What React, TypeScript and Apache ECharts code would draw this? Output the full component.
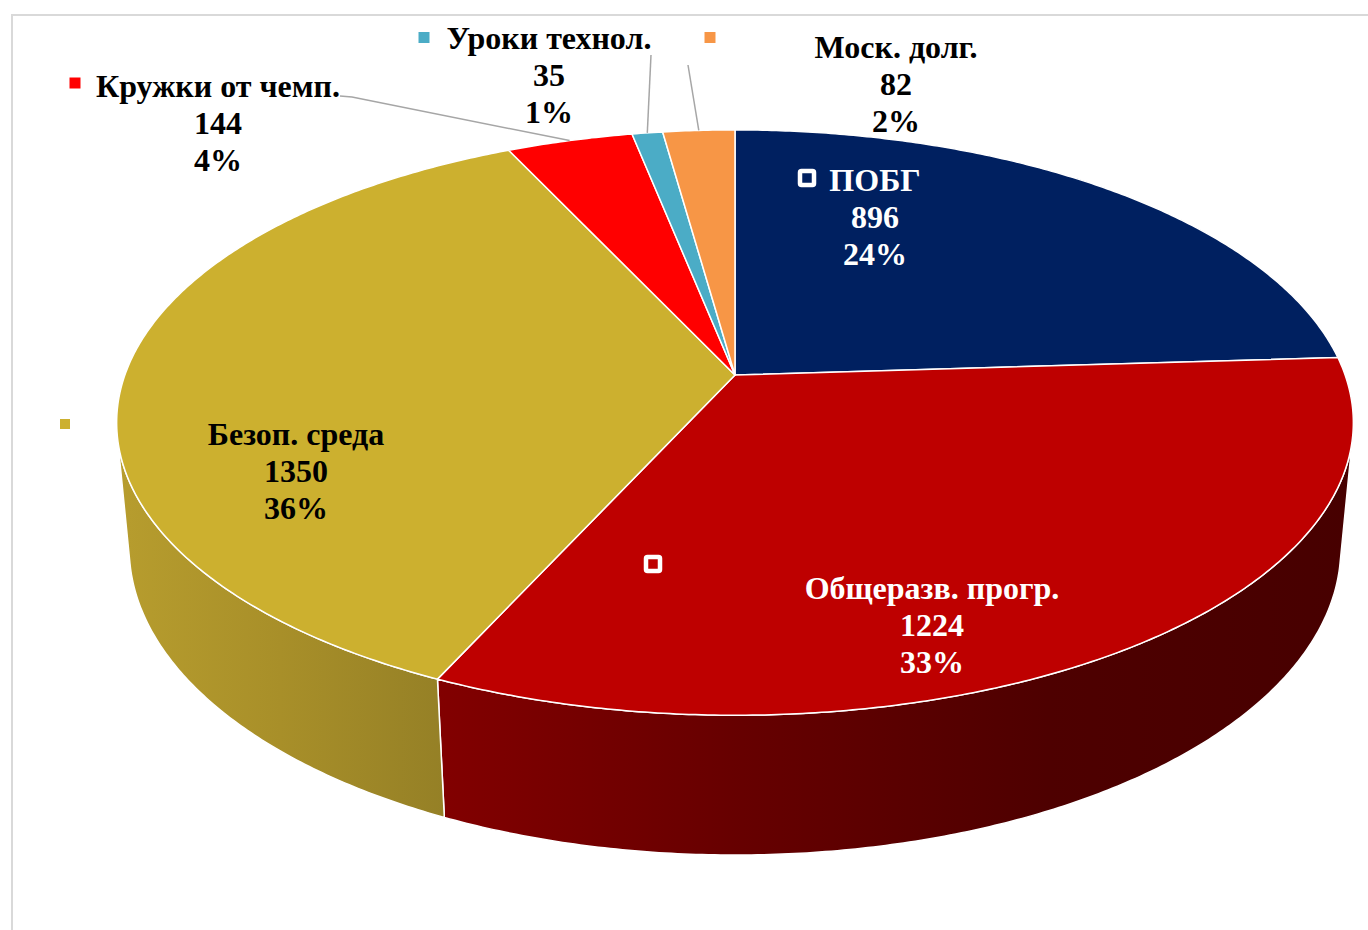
import React, { useEffect, useRef } from "react";
import * as echarts from "echarts";

// ---- data ----
const categories = ["ПОБГ", "Общеразв. прогр.", "Безоп. среда", "Кружки от чемп.", "Уроки технол.", "Моск. долг."];
const values = [896, 1224, 1350, 144, 35, 82];

// ---- styles ----
const topColors = ["#002060", "#BE0000", "#CCB02F", "#FF0000", "#4BACC6", "#F79646"];
const wallStops: string[][] = [
  ["#001A4F", "#000E2E"],
  ["#820000", "#660000", "#4E0000", "#470000"],
  ["#B79D2E", "#A88F29", "#958026"],
  ["#B00000", "#900000"],
  ["#3A8FA6", "#2F7A8E"],
  ["#D07A33", "#B8682A"],
];
const labelColors = ["#FFFFFF", "#FFFFFF", "#000000", "#000000", "#000000", "#000000"];

// label layout (screen positions): text centre x, first line centre y, legend key centre
const labelLayout = [
  { x: 875, y: 180, kx: 807, ky: 178, ks: 14, hollow: true, leader: null as null | number[][] },
  { x: 932, y: 588, kx: 653, ky: 564, ks: 14, hollow: true, leader: null },
  { x: 296, y: 434, kx: 65, ky: 424, ks: 10, hollow: false, leader: null },
  { x: 218, y: 86, kx: 75, ky: 83, ks: 11, hollow: false, leader: [[340, 96], [352, 97]] },
  { x: 549, y: 38, kx: 424, ky: 37.5, ks: 11, hollow: false, leader: [[651, 55]] },
  { x: 896, y: 47, kx: 710, ky: 37.5, ks: 11, hollow: false, leader: [[688, 65]] },
];

// perspective camera for the 3D disc
const view = { cx: 735, cy: 375, f: 3319, dist: 5.44, elev: (27.84 * Math.PI) / 180, thick: 0.235 };

function project(theta: number, r: number, h: number): number[] {
  const sb = Math.sin(view.elev);
  const cb = Math.cos(view.elev);
  const u = r * Math.sin(theta);
  const z = -r * Math.cos(theta);
  const y = -h * view.thick;
  const up = y * cb - z * sb;
  const depth = view.dist - y * sb - z * cb;
  return [view.cx + (view.f * u) / depth, view.cy - (view.f * up) / depth];
}

export default function App() {
  const ref = useRef<HTMLDivElement>(null);
  useEffect(() => {
    if (!ref.current) return;
    const chart = echarts.init(ref.current, undefined, { renderer: "svg" });
    const total = values.reduce((a, b) => a + b, 0);
    const starts: number[] = [];
    const ends: number[] = [];
    let acc = 0;
    values.forEach((v) => {
      starts.push((acc / total) * Math.PI * 2);
      acc += v;
      ends.push((acc / total) * Math.PI * 2);
    });
    const k = 1 / (view.dist * Math.cos(view.elev));
    const vis0 = Math.acos(-k);
    const vis1 = Math.PI * 2 - vis0;
    const STEP = Math.PI / 360;

    const wallItem = (params: any) => {
      const i = params.dataIndex;
      const a0 = Math.max(starts[i], vis0);
      const a1 = Math.min(ends[i], vis1);
      if (a1 <= a0) return { type: "group", children: [] };
      const n = Math.max(2, Math.ceil((a1 - a0) / STEP));
      const pts: number[][] = [];
      for (let j = 0; j <= n; j++) pts.push(project(a0 + ((a1 - a0) * j) / n, 1, 0));
      for (let j = n; j >= 0; j--) pts.push(project(a0 + ((a1 - a0) * j) / n, 1, 1));
      const stops = wallStops[i].map((c, idx, arr) => ({ offset: idx / (arr.length - 1), color: c }));
      return {
        type: "polygon",
        shape: { points: pts },
        style: {
          fill: new echarts.graphic.LinearGradient(0, 0, 1, 0, stops),
          stroke: "#FFFFFF",
          lineWidth: 1.5,
          lineJoin: "round",
        },
      };
    };

    const topItem = (params: any) => {
      const i = params.dataIndex;
      const a0 = starts[i];
      const a1 = ends[i];
      const n = Math.max(2, Math.ceil((a1 - a0) / STEP));
      const pts: number[][] = [project(0, 0, 0)];
      for (let j = 0; j <= n; j++) pts.push(project(a0 + ((a1 - a0) * j) / n, 1, 0));
      return {
        type: "polygon",
        shape: { points: pts },
        style: { fill: topColors[i], stroke: "#FFFFFF", lineWidth: 1.5, lineJoin: "round" },
      };
    };

    const graphics: any[] = [
      {
        type: "rect",
        z: 0,
        silent: true,
        shape: { x: 12, y: 15, width: 1400, height: 960 },
        style: { fill: "none", stroke: "#D9D9D9", lineWidth: 2 },
      },
    ];
    values.forEach((v, i) => {
      const L = labelLayout[i];
      const pct = Math.round((v / total) * 100);
      if (L.leader) {
        const mid = (starts[i] + ends[i]) / 2;
        graphics.push({
          type: "polyline",
          z: 50,
          silent: true,
          shape: { points: [...L.leader, project(mid, 1, 0)] },
          style: { fill: "none", stroke: "#A6A6A6", lineWidth: 1.5 },
        });
      }
      graphics.push({
        type: "rect",
        z: 60,
        silent: true,
        shape: { x: L.kx - L.ks / 2, y: L.ky - L.ks / 2, width: L.ks, height: L.ks, r: L.hollow ? 1.5 : 0 },
        style: L.hollow
          ? { fill: topColors[i], stroke: "#FFFFFF", lineWidth: 4.5 }
          : { fill: topColors[i], stroke: "none" },
      });
      graphics.push({
        type: "text",
        z: 60,
        silent: true,
        x: L.x,
        y: L.y - 18.5,
        style: {
          text: `${categories[i]}\n${v}\n${pct}%`,
          fill: labelColors[i],
          fontFamily: '"Liberation Serif", "Times New Roman", serif',
          fontWeight: "bold",
          fontSize: 32,
          lineHeight: 37,
          align: "center",
          verticalAlign: "top",
        },
      });
    });

    chart.setOption({
      animation: false,
      backgroundColor: "#FFFFFF",
      series: [
        {
          type: "custom",
          name: "walls",
          coordinateSystem: "none",
          z: 1,
          silent: true,
          renderItem: wallItem,
          data: values,
        },
        {
          type: "custom",
          name: "tops",
          coordinateSystem: "none",
          z: 2,
          silent: true,
          renderItem: topItem,
          data: values,
        },
      ],
      graphic: { elements: graphics },
    });
    return () => chart.dispose();
  }, []);
  return (
    <div
      ref={ref}
      style={{ position: "fixed", left: 0, top: 0, width: 1368, height: 930, background: "#fff" }}
    />
  );
}
